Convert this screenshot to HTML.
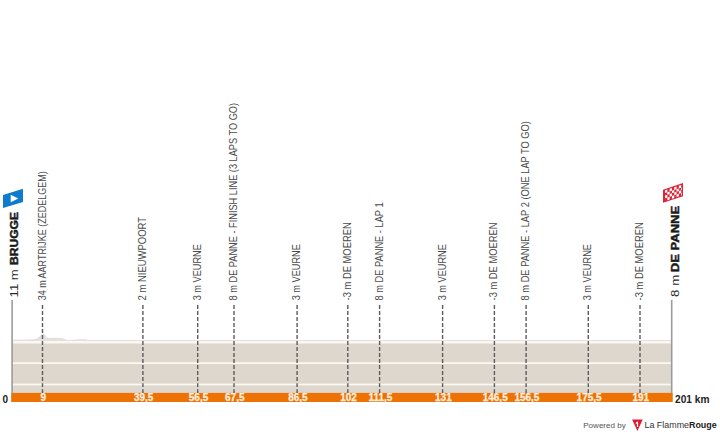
<!DOCTYPE html><html><head><meta charset="utf-8"><style>html,body{margin:0;padding:0;background:#fff;width:720px;height:435px;overflow:hidden}svg{display:block}text{font-family:"Liberation Sans",sans-serif}</style></head><body>
<svg width="720" height="435" viewBox="0 0 720 435">
<rect width="720" height="435" fill="#fff"/>
<rect x="12" y="341" width="660" height="52" fill="#ded7ce"/>
<rect x="12" y="341" width="660" height="2.5" fill="#fbf7f1"/>
<rect x="12" y="362.2" width="660" height="1.8" fill="#fbf7f1"/>
<rect x="12" y="383.6" width="660" height="1.8" fill="#fbf7f1"/>
<path d="M12,341 L12,339.8 L26,339.6 L33,339.2 L37,338.5 L39.5,336.6 L41.5,334.3 L43.2,333.5 L44.8,334.5 L46.5,337.4 L48,338 L55,337.7 L62,337.9 L65.5,339.2 L67.5,340 L74,339.8 L77,339.2 L86,339.2 L88,339.9 L672,340 L672,341 Z" fill="#e3e1de"/>
<line x1="12.1" y1="300" x2="12.1" y2="402" stroke="#9b9b9b" stroke-width="1.6"/>
<line x1="671.7" y1="300" x2="671.7" y2="402" stroke="#9b9b9b" stroke-width="1.6"/>
<rect x="11.4" y="392.9" width="661.2" height="9.1" fill="#ee7203"/>
<line x1="42.5" y1="305.0" x2="42.5" y2="393" stroke="#5c5c5c" stroke-width="1.4" stroke-dasharray="3.95 2.06"/>
<text transform="translate(45.50,300.34) rotate(-90)" font-size="10.2" fill="#4a4a4a" textLength="128.99" lengthAdjust="spacingAndGlyphs">34 m AARTRIJKE (ZEDELGEM)</text>
<text x="43.30" y="400.6" font-size="10" font-weight="bold" fill="#fdf0e0" stroke="#fdf0e0" stroke-width="0.25" text-anchor="middle">9</text>
<line x1="142.9" y1="305.0" x2="142.9" y2="393" stroke="#5c5c5c" stroke-width="1.4" stroke-dasharray="3.95 2.06"/>
<text transform="translate(145.90,300.48) rotate(-90)" font-size="10.2" fill="#4a4a4a" textLength="83.49" lengthAdjust="spacingAndGlyphs">2 m NIEUWPOORT</text>
<text x="143.70" y="400.6" font-size="10" font-weight="bold" fill="#fdf0e0" stroke="#fdf0e0" stroke-width="0.25" text-anchor="middle">39,5</text>
<line x1="197.7" y1="305.0" x2="197.7" y2="393" stroke="#5c5c5c" stroke-width="1.4" stroke-dasharray="3.95 2.06"/>
<text transform="translate(200.70,300.35) rotate(-90)" font-size="10.2" fill="#4a4a4a" textLength="56.25" lengthAdjust="spacingAndGlyphs">3 m VEURNE</text>
<text x="198.50" y="400.6" font-size="10" font-weight="bold" fill="#fdf0e0" stroke="#fdf0e0" stroke-width="0.25" text-anchor="middle">56,5</text>
<line x1="234.0" y1="305.0" x2="234.0" y2="393" stroke="#5c5c5c" stroke-width="1.4" stroke-dasharray="3.95 2.06"/>
<text transform="translate(237.00,300.40) rotate(-90)" font-size="10.2" fill="#4a4a4a" textLength="197.47" lengthAdjust="spacingAndGlyphs">8 m DE PANNE - FINISH LINE (3 LAPS TO GO)</text>
<text x="234.80" y="400.6" font-size="10" font-weight="bold" fill="#fdf0e0" stroke="#fdf0e0" stroke-width="0.25" text-anchor="middle">67,5</text>
<line x1="297.1" y1="305.0" x2="297.1" y2="393" stroke="#5c5c5c" stroke-width="1.4" stroke-dasharray="3.95 2.06"/>
<text transform="translate(300.10,300.35) rotate(-90)" font-size="10.2" fill="#4a4a4a" textLength="56.14" lengthAdjust="spacingAndGlyphs">3 m VEURNE</text>
<text x="297.90" y="400.6" font-size="10" font-weight="bold" fill="#fdf0e0" stroke="#fdf0e0" stroke-width="0.25" text-anchor="middle">86,5</text>
<line x1="347.8" y1="305.0" x2="347.8" y2="393" stroke="#5c5c5c" stroke-width="1.4" stroke-dasharray="3.95 2.06"/>
<text transform="translate(350.80,300.42) rotate(-90)" font-size="10.2" fill="#4a4a4a" textLength="78.08" lengthAdjust="spacingAndGlyphs">-3 m DE MOEREN</text>
<text x="348.60" y="400.6" font-size="10" font-weight="bold" fill="#fdf0e0" stroke="#fdf0e0" stroke-width="0.25" text-anchor="middle">102</text>
<line x1="379.6" y1="305.0" x2="379.6" y2="393" stroke="#5c5c5c" stroke-width="1.4" stroke-dasharray="3.95 2.06"/>
<text transform="translate(382.60,300.40) rotate(-90)" font-size="10.2" fill="#4a4a4a" textLength="97.95" lengthAdjust="spacingAndGlyphs">8 m DE PANNE - LAP 1</text>
<text x="380.40" y="400.6" font-size="10" font-weight="bold" fill="#fdf0e0" stroke="#fdf0e0" stroke-width="0.25" text-anchor="middle">111,5</text>
<line x1="442.6" y1="305.0" x2="442.6" y2="393" stroke="#5c5c5c" stroke-width="1.4" stroke-dasharray="3.95 2.06"/>
<text transform="translate(445.60,300.35) rotate(-90)" font-size="10.2" fill="#4a4a4a" textLength="56.25" lengthAdjust="spacingAndGlyphs">3 m VEURNE</text>
<text x="443.40" y="400.6" font-size="10" font-weight="bold" fill="#fdf0e0" stroke="#fdf0e0" stroke-width="0.25" text-anchor="middle">131</text>
<line x1="494.4" y1="305.0" x2="494.4" y2="393" stroke="#5c5c5c" stroke-width="1.4" stroke-dasharray="3.95 2.06"/>
<text transform="translate(497.40,300.42) rotate(-90)" font-size="10.2" fill="#4a4a4a" textLength="77.88" lengthAdjust="spacingAndGlyphs">-3 m DE MOEREN</text>
<text x="495.20" y="400.6" font-size="10" font-weight="bold" fill="#fdf0e0" stroke="#fdf0e0" stroke-width="0.25" text-anchor="middle">146,5</text>
<line x1="526.1" y1="305.0" x2="526.1" y2="393" stroke="#5c5c5c" stroke-width="1.4" stroke-dasharray="3.95 2.06"/>
<text transform="translate(529.10,300.40) rotate(-90)" font-size="10.2" fill="#4a4a4a" textLength="179.27" lengthAdjust="spacingAndGlyphs">8 m DE PANNE - LAP 2 (ONE LAP TO GO)</text>
<text x="526.90" y="400.6" font-size="10" font-weight="bold" fill="#fdf0e0" stroke="#fdf0e0" stroke-width="0.25" text-anchor="middle">156,5</text>
<line x1="588.3" y1="305.0" x2="588.3" y2="393" stroke="#5c5c5c" stroke-width="1.4" stroke-dasharray="3.95 2.06"/>
<text transform="translate(591.30,300.35) rotate(-90)" font-size="10.2" fill="#4a4a4a" textLength="56.35" lengthAdjust="spacingAndGlyphs">3 m VEURNE</text>
<text x="589.10" y="400.6" font-size="10" font-weight="bold" fill="#fdf0e0" stroke="#fdf0e0" stroke-width="0.25" text-anchor="middle">175,5</text>
<line x1="640.0" y1="305.0" x2="640.0" y2="393" stroke="#5c5c5c" stroke-width="1.4" stroke-dasharray="3.95 2.06"/>
<text transform="translate(643.00,300.42) rotate(-90)" font-size="10.2" fill="#4a4a4a" textLength="78.08" lengthAdjust="spacingAndGlyphs">-3 m DE MOEREN</text>
<text x="640.80" y="400.6" font-size="10" font-weight="bold" fill="#fdf0e0" stroke="#fdf0e0" stroke-width="0.25" text-anchor="middle">191</text>
<text transform="translate(17.80,297.47) rotate(-90)" font-size="11.8" fill="#2a2a2a" textLength="28.31" lengthAdjust="spacingAndGlyphs">11 m</text>
<text transform="translate(17.80,265.01) rotate(-90)" font-size="11.8" font-weight="bold" fill="#1a1a1a" stroke="#1a1a1a" stroke-width="0.45" textLength="53.08" lengthAdjust="spacingAndGlyphs">BRUGGE</text>
<text transform="translate(678.60,296.88) rotate(-90)" font-size="11.8" fill="#2a2a2a" textLength="22.26" lengthAdjust="spacingAndGlyphs">8 m</text>
<text transform="translate(678.60,272.26) rotate(-90)" font-size="11.8" font-weight="bold" fill="#1a1a1a" stroke="#1a1a1a" stroke-width="0.45" textLength="66.46" lengthAdjust="spacingAndGlyphs">DE PANNE</text>
<path d="M3,195 L23,188.8 L23,202 L3,208 Z" fill="#0e7bcc"/>
<path d="M10.7,194.7 L18.3,198.4 L10.7,202.2 Z" fill="#fff"/>
<g transform="matrix(1,-0.33,0,1,663,189.7)"><rect x="0" y="0" width="20" height="13.1" fill="#dd2537"/><g fill="#fff"><rect x="2.05" y="1.30" width="2.30" height="2.65"/><rect x="6.65" y="1.30" width="2.30" height="2.65"/><rect x="11.25" y="1.30" width="2.30" height="2.65"/><rect x="15.85" y="1.30" width="2.30" height="2.65"/><rect x="4.35" y="3.95" width="2.30" height="2.65"/><rect x="8.95" y="3.95" width="2.30" height="2.65"/><rect x="13.55" y="3.95" width="2.30" height="2.65"/><rect x="18.15" y="3.95" width="0.75" height="2.65"/><rect x="2.05" y="6.60" width="2.30" height="2.65"/><rect x="6.65" y="6.60" width="2.30" height="2.65"/><rect x="11.25" y="6.60" width="2.30" height="2.65"/><rect x="15.85" y="6.60" width="2.30" height="2.65"/><rect x="4.35" y="9.25" width="2.30" height="2.65"/><rect x="8.95" y="9.25" width="2.30" height="2.65"/><rect x="13.55" y="9.25" width="2.30" height="2.65"/><rect x="18.15" y="9.25" width="0.75" height="2.65"/></g></g>
<text x="2.5" y="403" font-size="10" font-weight="bold" fill="#222">0</text>
<text x="675.05" y="403" font-size="10.3" font-weight="bold" fill="#222" textLength="34.38" lengthAdjust="spacingAndGlyphs">201 km</text>
<text x="583.24" y="427.6" font-size="8" fill="#555" textLength="42.48" lengthAdjust="spacingAndGlyphs">Powered by</text>
<path d="M632.1,419.4 L642.7,419.4 L637.4,431.1 Z" fill="#e2182f"/>
<path d="M636.7,421.7 L638.1,421.7 L638.1,426.9 L636.9,426.9 L636.9,423.4 L635.8,424 L635.8,422.7 Z" fill="#fff"/>
<text x="644.5" y="427.6" font-size="9" fill="#333" textLength="72.2" lengthAdjust="spacingAndGlyphs">La Flamme<tspan font-weight="bold" fill="#222">Rouge</tspan></text>
</svg></body></html>
